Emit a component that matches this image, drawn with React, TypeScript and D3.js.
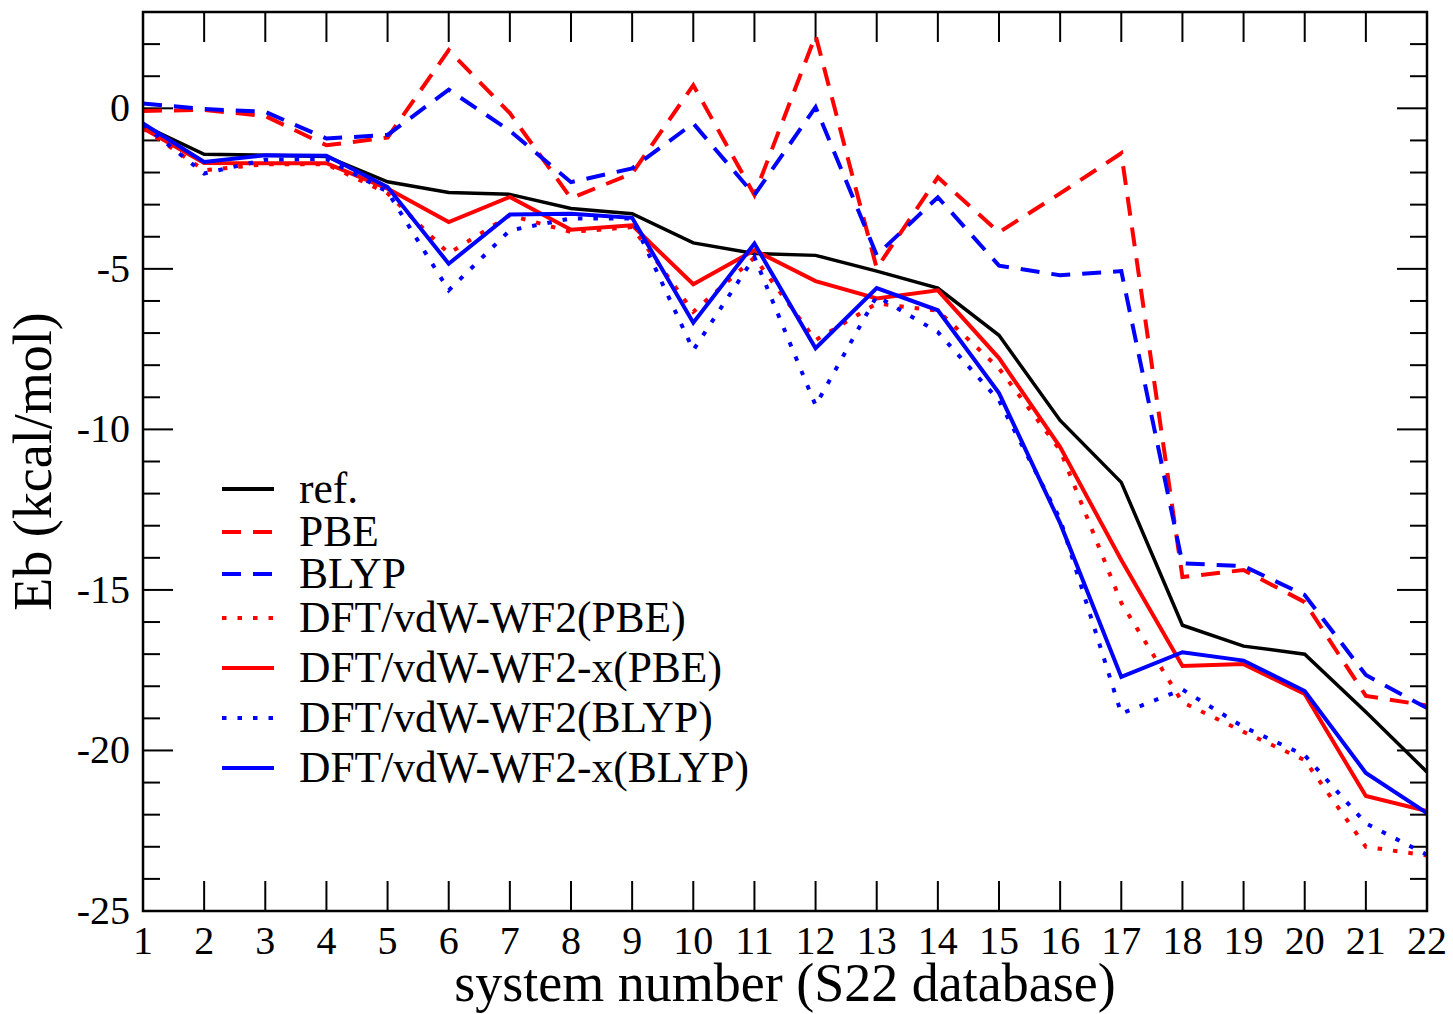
import { useEffect, useRef } from "react";
import * as d3 from "d3";

const systemNumbers = [1, 2, 3, 4, 5, 6, 7, 8, 9, 10, 11, 12, 13, 14, 15, 16, 17, 18, 19, 20, 21, 22];

const refValues = [-0.53, -1.43, -1.46, -1.5, -2.29, -2.62, -2.68, -3.12, -3.28, -4.19, -4.52, -4.58, -5.07, -5.6, -7.07, -9.72, -11.65, -16.1, -16.75, -17.0, -18.8, -20.67];
const pbeValues = [-0.08, -0.05, -0.24, -1.15, -0.91, 1.81, -0.15, -2.8, -2.03, 0.72, -2.7, 2.27, -4.98, -2.15, -3.86, -2.65, -1.4, -14.6, -14.38, -15.38, -18.3, -18.6];
const blypValues = [0.15, -0.02, -0.11, -0.94, -0.83, 0.58, -0.7, -2.3, -1.87, -0.47, -2.7, 0.04, -4.57, -2.77, -4.9, -5.2, -5.07, -14.17, -14.26, -15.16, -17.65, -18.68];
const wf2PbeValues = [-0.62, -1.93, -1.74, -1.74, -2.65, -4.52, -3.33, -3.85, -3.7, -6.34, -4.65, -7.22, -6.08, -6.3, -8.1, -10.65, -15.4, -18.5, -19.42, -20.3, -23.0, -23.27];
const wf2xPbeValues = [-0.62, -1.7, -1.71, -1.71, -2.5, -3.54, -2.76, -3.78, -3.64, -5.48, -4.42, -5.38, -5.92, -5.67, -7.78, -10.55, -14.07, -17.37, -17.31, -18.24, -21.42, -21.89];
const wf2BlypValues = [-0.5, -2.03, -1.6, -1.58, -2.6, -5.67, -3.8, -3.43, -3.43, -7.53, -4.63, -9.25, -5.85, -6.97, -9.1, -12.8, -18.85, -18.1, -19.27, -20.15, -22.27, -23.25];
const wf2xBlypValues = [-0.47, -1.67, -1.46, -1.48, -2.45, -4.84, -3.31, -3.28, -3.41, -6.68, -4.21, -7.47, -5.6, -6.29, -8.87, -12.92, -17.71, -16.94, -17.2, -18.15, -20.7, -21.95];

const seriesLabels = [
	"ref.",
	"PBE",
	"BLYP",
	"DFT/vdW-WF2(PBE)",
	"DFT/vdW-WF2-x(PBE)",
	"DFT/vdW-WF2(BLYP)",
	"DFT/vdW-WF2-x(BLYP)"
];
const yTickValues = [0, -5, -10, -15, -20, -25];

const DASHED = "19 12";
const DOTTED = "4.5 11";

const series = [
	{ label: seriesLabels[0], values: refValues, color: "#000000", dash: null },
	{ label: seriesLabels[1], values: pbeValues, color: "#ff0000", dash: DASHED },
	{ label: seriesLabels[2], values: blypValues, color: "#0000ff", dash: DASHED },
	{ label: seriesLabels[3], values: wf2PbeValues, color: "#ff0000", dash: DOTTED },
	{ label: seriesLabels[4], values: wf2xPbeValues, color: "#ff0000", dash: null },
	{ label: seriesLabels[5], values: wf2BlypValues, color: "#0000ff", dash: DOTTED },
	{ label: seriesLabels[6], values: wf2xBlypValues, color: "#0000ff", dash: null }
];

const legendRows = [489, 532, 574, 618, 668, 718, 768];

const font = "'Liberation Serif', 'Times New Roman', serif";

export default function App() {
	const svgRef = useRef<SVGSVGElement>(null);

	useEffect(() => {
		if (!svgRef.current) return;
		const svg = d3.select(svgRef.current);
		svg.selectAll("*").remove();

		const left = 143;
		const right = 1427;
		const top = 12;
		const bottom = 911;

		const x = d3.scaleLinear().domain([1, 22]).range([left, right]);
		const y = d3.scaleLinear().domain([-25, 3]).range([bottom, top]);

		svg.append("rect").attr("width", 1453).attr("height", 1014).attr("fill", "#ffffff");

		svg
			.append("defs")
			.append("clipPath")
			.attr("id", "plot-clip")
			.append("rect")
			.attr("x", left)
			.attr("y", top)
			.attr("width", right - left)
			.attr("height", bottom - top);

		// ticks, all pointing inward
		const ticks = svg.append("g").attr("stroke", "#000").attr("stroke-width", 2);
		systemNumbers.forEach((n) => {
			ticks.append("line").attr("x1", x(n)).attr("x2", x(n)).attr("y1", bottom).attr("y2", bottom - 30);
			ticks.append("line").attr("x1", x(n)).attr("x2", x(n)).attr("y1", top).attr("y2", top + 30);
		});
		d3.range(-25, 4).forEach((v) => {
			const len = v % 5 === 0 ? 30 : 17;
			ticks.append("line").attr("x1", left).attr("x2", left + len).attr("y1", y(v)).attr("y2", y(v));
			ticks.append("line").attr("x1", right).attr("x2", right - len).attr("y1", y(v)).attr("y2", y(v));
		});

		const line = d3
			.line<number>()
			.x((_, i) => x(systemNumbers[i]))
			.y((v) => y(v));

		const lines = svg.append("g").attr("clip-path", "url(#plot-clip)");
		series.forEach((s) => {
			lines
				.append("path")
				.attr("d", line(s.values))
				.attr("fill", "none")
				.attr("stroke", s.color)
				.attr("stroke-width", s.color === "#000000" ? 3.5 : 4)
				.attr("stroke-linejoin", "miter")
				.attr("stroke-dasharray", s.dash);
		});

		svg
			.append("rect")
			.attr("x", left)
			.attr("y", top)
			.attr("width", right - left)
			.attr("height", bottom - top)
			.attr("fill", "none")
			.attr("stroke", "#000")
			.attr("stroke-width", 2.5);

		svg
			.append("g")
			.selectAll("text")
			.data(systemNumbers)
			.join("text")
			.attr("x", (n) => x(n))
			.attr("y", 954)
			.attr("text-anchor", "middle")
			.attr("font-family", font)
			.attr("font-size", 40)
			.text((n) => `${n}`);

		svg
			.append("g")
			.selectAll("text")
			.data(yTickValues)
			.join("text")
			.attr("x", 130)
			.attr("y", (v) => y(v) + 13)
			.attr("text-anchor", "end")
			.attr("font-family", font)
			.attr("font-size", 40)
			.text((v) => `${v}`);

		svg
			.append("text")
			.attr("x", (left + right) / 2)
			.attr("y", 1001)
			.attr("text-anchor", "middle")
			.attr("font-family", font)
			.attr("font-size", 54)
			.text("system number (S22 database)");

		svg
			.append("text")
			.attr("transform", `translate(51,${(top + bottom) / 2}) rotate(-90)`)
			.attr("text-anchor", "middle")
			.attr("font-family", font)
			.attr("font-size", 54)
			.text("Eb (kcal/mol)");

		const legend = svg.append("g");
		series.forEach((s, i) => {
			const ly = legendRows[i];
			legend
				.append("line")
				.attr("x1", 222)
				.attr("x2", 274)
				.attr("y1", ly)
				.attr("y2", ly)
				.attr("stroke", s.color)
				.attr("stroke-width", 4)
				.attr("stroke-dasharray", s.dash);
			legend
				.append("text")
				.attr("x", 299)
				.attr("y", ly + 14)
				.attr("font-family", font)
				.attr("font-size", 43.5)
				.text(s.label);
		});
	}, []);

	return (
		<svg
			ref={svgRef}
			width={1453}
			height={1014}
			style={{ position: "absolute", left: 0, top: 0 }}
		/>
	);
}
